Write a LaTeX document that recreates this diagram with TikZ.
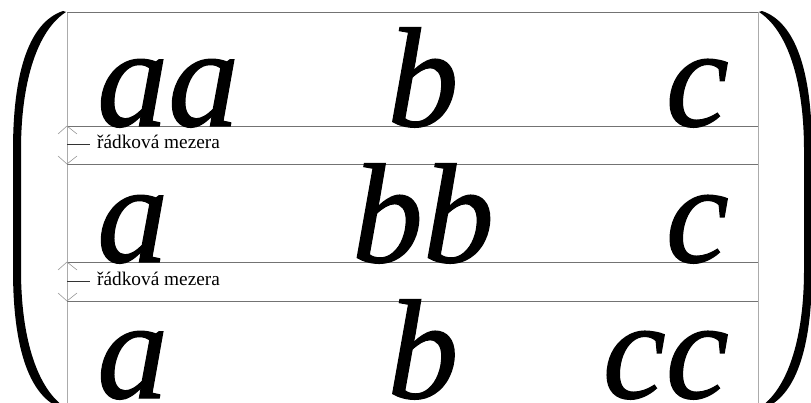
\documentclass[tikz,border=0pt]{standalone}
\usepackage{fontspec}
\setmainfont{Liberation Serif}
\newfontfamily\bigfont{Liberation Serif}[ItalicFeatures={FakeBold=0.9}]
\begin{document}
\begin{tikzpicture}[x=1pt,y=-1pt,
  big/.style={inner sep=0pt,text depth=0pt,font=\bigfont\fontsize{142}{142}\selectfont\itshape},
  gap/.style={inner sep=0pt,font=\fontsize{19.3}{19.3}\selectfont,anchor=base west},
  hline/.style={draw=black!55,line width=0.9pt},
  vline/.style={draw=black!33,line width=1pt},
  chev/.style={draw=black!40,line width=0.6pt},
  tick/.style={draw=black!80,line width=0.6pt},
  paren/.style={fill=black}]
\useasboundingbox (0,0) rectangle (811,403);
% frame lines
\coordinate (tl) at (67,12); \coordinate (tr) at (758,12);
\coordinate (bl) at (67,403); \coordinate (br) at (758,403);
\draw[vline] (tl) -- (bl);
\draw[vline] (tr) -- (br);
\draw[hline] (tl) -- (tr);
\foreach \y/\n in {126/a,164/b,262/c,301/d}{
  \coordinate (L\n) at (67,\y); \coordinate (R\n) at (758,\y);
  \draw[hline] (L\n) -- (R\n);
}
% line-gap markers
\foreach \up/\dn/\m/\n in {126/164/144/1,262/301/281/2}{
  \draw[chev] (58,\up+8) -- (67,\up) -- (77,\up+8);
  \draw[chev] (58,\dn-8) -- (67,\dn) -- (77,\dn-8);
  \coordinate (t\n) at (67,\m);
  \node[gap] (g\n) at (97,\m+5) {řádková mezera};
  \draw[tick] (t\n) -- (90,\m);
}
% matrix entries
\node[big,anchor=base west] (a11) at (97,126) {aa};
\node[big,anchor=base] (a12) at (423,126) {b};
\node[big,anchor=base east] (a13) at (729,126) {c};
\node[big,anchor=base west] (a21) at (97,262) {a};
\node[big,anchor=base] (a22) at (423,262) {bb};
\node[big,anchor=base east] (a23) at (729,262) {c};
\node[big,anchor=base west] (a31) at (97,398) {a};
\node[big,anchor=base] (a32) at (423,398) {b};
\node[big,anchor=base east] (a33) at (729,398) {cc};
% parentheses
\def\parenpath{(63,11) .. controls (30,22) and (13,70) .. (13,150) -- (13,270) .. controls (13,350) and (30,398) .. (63,409) -- (66,408) .. controls (38,390) and (21,340) .. (21,270) -- (21,150) .. controls (21,80) and (38,30) .. (66,12) -- cycle}
\fill[paren] \parenpath;
\begin{scope}[shift={(825,0)},xscale=-1]
\fill[paren] \parenpath;
\end{scope}
\end{tikzpicture}
\end{document}
